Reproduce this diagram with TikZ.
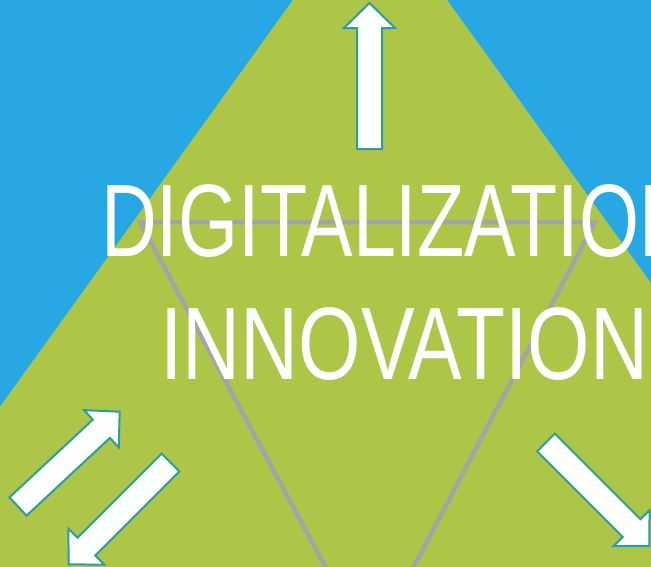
\documentclass[tikz,border=0pt]{standalone}
\usepackage{fontspec}
\newfontfamily\narrowsans[FakeStretch=0.78]{Liberation Sans}
\newfontfamily\narrowersans[FakeStretch=0.75]{Liberation Sans}
\definecolor{skyblue}{HTML}{27A8E4}
\definecolor{leafgreen}{HTML}{AEC648}
\definecolor{arrowteal}{HTML}{2A9FA0}
\definecolor{linegray}{HTML}{A3A3A8}
\tikzset{
  arrowbody/.style={fill=white, draw=arrowteal, line width=2pt, line join=miter},
  % block arrow, tail at the origin, pointing along x
  pics/bigarrow/.style={code={
    \draw[arrowbody] (0,-12.5) -- ({#1-25},-12.5) -- ({#1-25},-25.5) -- (#1,0)
      -- ({#1-25},25.5) -- ({#1-25},12.5) -- (0,12.5) -- cycle;
  }},
  bigword/.style={text=white, inner sep=0pt, anchor=base west,
    font=\narrowsans\fontsize{103}{103}\selectfont}
}
\begin{document}
\begin{tikzpicture}[x=1pt,y=-1pt]
  \useasboundingbox (0,0) rectangle (651,566);
  \clip (0,0) rectangle (651,566);
  \fill[skyblue] (0,0) rectangle (651,566);
  \fill[leafgreen] (370,-107) -- (-204,690) -- (944,690) -- cycle;
  \draw[linegray, line width=4.5pt] (140,222) -- (595,222) -- (370,650) -- cycle;

  \node[bigword, font=\narrowersans\fontsize{103}{103}\selectfont] (digi) at (101,256) {DIGITALIZATION};
  \node[bigword] (inno) at (160,379) {INNOVATION};

  \pic[rotate=90] (up) at (369.5,149) {bigarrow=146};
  \pic[rotate=43] (outleft) at (18,506.5) {bigarrow=139};
  \pic[rotate=225] (inleft) at (170.5,462.5) {bigarrow=144};
  \pic[rotate=-45] (outright) at (546,442.5) {bigarrow=146};
\end{tikzpicture}
\end{document}
